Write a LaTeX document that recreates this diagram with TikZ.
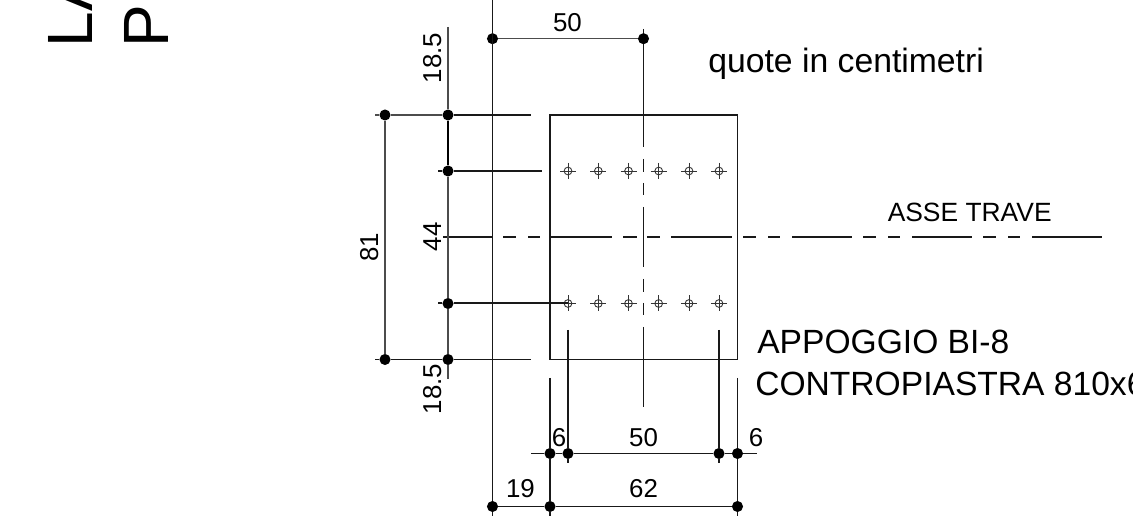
\documentclass[tikz,border=0pt]{standalone}
\usepackage{fontspec}
\setmainfont{Liberation Sans}
\newcommand{\fs}[1]{\fontsize{#1}{#1}\selectfont}
\tikzset{
  x=0.75pt,y=-0.75pt,
  dot/.style={circle,fill=black,inner sep=0pt,minimum size=8.3pt},
  txt/.style={inner sep=0pt,anchor=base,text=black},
  dim/.style={txt,font=\fs{19.4pt}},
  dimrot/.style={dim,rotate=90},
  ln/.style={line width=1pt,black!90},
  thin line/.style={line width=1pt,black!70},
  hole/.style={line width=0.65pt,black!80}
}
\begin{document}
\begin{tikzpicture}
\clip (0,0) rectangle (1133,523);
\fill[white] (0,0) rectangle (1133,523);
% centre lines
\foreach \a/\b in {443/492.5,503/516,528/540,551/612,623/637,647/660,671/732,743/756,768/780,792/852,863/876,888/900,912/972,983/996,1008/1020,1032/1102}
  \draw[ln] (\a,237) -- (\b,237);
\foreach \a/\b in {29/147,159/172,183/195,207/267,279/292,303/315,327/407}
  \draw[ln] (643.5,\a) -- (643.5,\b);
% plate
\draw[ln] (550,115) rectangle (737.5,359.5);
% holes
\foreach \y in {171,303.5}\foreach \x in {568,598.3,628.5,658.7,689,719}{
  \draw[hole] (\x,\y) circle[radius=2.9pt];
  \draw[hole] (\x-8,\y) -- (\x+8,\y) (\x,\y-8) -- (\x,\y+8);
}
% dots
\node[dot] (a1) at (492.5,38.7) {};
\node[dot] (a2) at (643.5,38.7) {};
\node[dot] (b1) at (385,115) {};
\node[dot] (b2) at (448,115) {};
\node[dot] (c2) at (448,171) {};
\node[dot] (d2) at (448,303.5) {};
\node[dot] (e1) at (385,359.5) {};
\node[dot] (e2) at (448,359.5) {};
\node[dot] (f1) at (550,453.5) {};
\node[dot] (f2) at (568,453.5) {};
\node[dot] (f3) at (719,453.5) {};
\node[dot] (f4) at (737.5,453.5) {};
\node[dot] (g1) at (492.5,506.5) {};
\node[dot] (g2) at (550,506.5) {};
\node[dot] (g3) at (737.5,506.5) {};
% vertical lines
\draw[thin line] (b1) -- (e1);
\draw[thin line] (448,27) -- (b2);
\draw[line width=1.4pt,black] (b2) -- (c2);
\draw[thin line] (c2) -- (d2);
\draw[thin line] (d2) -- (e2) -- (448,379);
\draw[ln] (492.5,0) -- (g1) -- (492.5,516);
\draw[ln] (550,378) -- (f1) -- (g2) -- (550,516);
\draw[ln] (737.5,378) -- (f4) -- (g3) -- (737.5,516);
\draw[ln] (568,330) -- (f2) -- (568,463);
\draw[ln] (719,330) -- (f3) -- (719,463);
% horizontal lines
\draw[thin line] (a1) -- (a2);
\draw[thin line] (375,115) -- (b1) -- (b2);
\draw[ln] (b2) -- (531,115);
\draw[ln] (438,171) -- (c2) -- (542,171);
\draw[ln,line width=1.5pt] (438,303.5) -- (d2) -- (568,303.5);
\draw[ln] (375,359.5) -- (e1) -- (e2) -- (531,359.5);
\draw[ln] (531,453.5) -- (f1) -- (f2) -- (f3) -- (f4) -- (757,453.5);
\draw[ln] (g1) -- (g2) -- (g3);
% dimension labels
\node[dim] (t50a) at (567.5,32) {50};
\node[dimrot] (t185a) at (441,58) {18.5};
\node[dimrot] (t81) at (378,247.5) {81};
\node[dimrot] (t44) at (441,237) {44};
\node[dimrot] (t185b) at (441,389) {18.5};
\node[dim] (t6a) at (559,447) {6};
\node[dim] (t50b) at (643.5,447) {50};
\node[dim] (t6b) at (756,447) {6};
\node[dim] (t19) at (520.5,498) {19};
\node[dim] (t62) at (643.5,498) {62};
% notes
\node[txt,anchor=base west,font=\fs{25.3pt}] (q) at (708,73) {quote in centimetri};
\node[txt,anchor=base west,font=\fs{19.8pt}] (asse) at (887.5,222) {ASSE TRAVE};
\node[txt,anchor=base west,font=\fs{25.2pt}] (app) at (757,354) {APPOGGIO BI-8};
\node[txt,anchor=base west,font=\fs{25.2pt}] (con) at (755,395.5) {CONTROPIASTRA 810x600};
% title, cut by the page
\node[txt,anchor=base west,rotate=90,font=\fs{48pt}] (l1) at (92,47.5) {LA};
\node[txt,anchor=base west,rotate=90,font=\fs{48pt}] (l2) at (168,47.5) {PI};
\end{tikzpicture}
\end{document}
